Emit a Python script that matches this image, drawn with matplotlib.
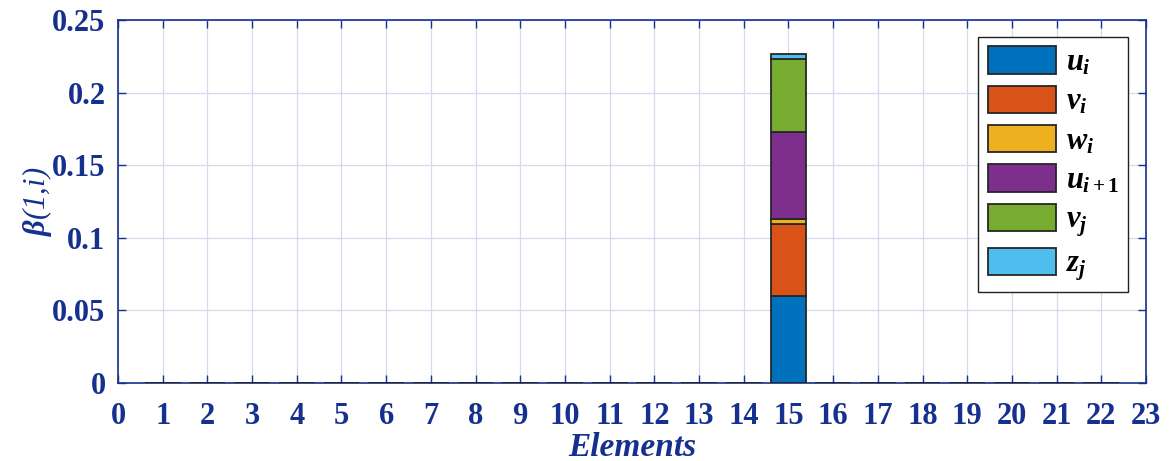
import numpy as np
import matplotlib
matplotlib.use("Agg")
import matplotlib.pyplot as plt

plt.rcParams['font.family'] = ['Liberation Serif', 'DejaVu Serif']
plt.rcParams['mathtext.fontset'] = 'custom'
plt.rcParams['mathtext.it'] = 'Liberation Serif:italic:bold'
plt.rcParams['mathtext.rm'] = 'Liberation Serif:bold'
plt.rcParams['mathtext.bf'] = 'Liberation Serif:bold'

elements = np.arange(1, 23)
labels = [r'$u_i$', r'$v_i$', r'$w_i$', r'$u_{i+1}$', r'$v_j$', r'$z_j$']
colors = ['#0072BD', '#D95319', '#EDB120', '#7E2F8E', '#77AC30', '#4DBEEE']

# contribution of each degree of freedom, only element 15 is non-zero
u_i = np.zeros(22); u_i[14] = 0.060
v_i = np.zeros(22); v_i[14] = 0.0495
w_i = np.zeros(22); w_i[14] = 0.0035
u_i1 = np.zeros(22); u_i1[14] = 0.0602
v_j = np.zeros(22); v_j[14] = 0.0498
z_j = np.zeros(22); z_j[14] = 0.0038
series = [u_i, v_i, w_i, u_i1, v_j, z_j]

navy = '#15308f'
grid_c = '#d5d9ee'

fig = plt.figure(figsize=(11.7, 4.61), dpi=100)
ax = fig.add_axes([118/1170, 1-383/461, (1146-118)/1170, (383-20)/461])

bottom = np.zeros(22)
for vals, lab, col in zip(series, labels, colors):
    ax.bar(elements, vals, width=0.8, bottom=bottom, color=col,
           edgecolor='#262626', linewidth=1.3, label=lab, zorder=3)
    bottom += vals

ax.set_xlim(0, 23)
ax.set_ylim(0, 0.25)
ax.set_xticks(np.arange(0, 24))
ax.set_yticks([0, 0.05, 0.1, 0.15, 0.2, 0.25])
ax.set_yticklabels(['0', '0.05', '0.1', '0.15', '0.2', '0.25'])
ax.grid(True, color=grid_c, linewidth=0.9, zorder=0)
ax.set_axisbelow(True)

for s in ax.spines.values():
    s.set_color(navy)
    s.set_linewidth(1.2)
ax.tick_params(axis='both', direction='in', colors=navy, length=6,
               top=True, right=True, labelsize=22, width=1.0)
for t in ax.get_xticklabels() + ax.get_yticklabels():
    t.set_fontweight('bold')
    t.set_color(navy)
ax.tick_params(axis='x', pad=14)
ax.tick_params(axis='y', pad=9)

ax.set_xlabel('Elements', fontsize=24, fontweight='bold', fontstyle='italic',
              color=navy)
ax.xaxis.set_label_coords(0.5, -0.135)
ax.set_ylabel(r'$\beta$(1,i)', fontsize=22, fontstyle='italic', color=navy)
ax.yaxis.set_label_coords(-0.062, 0.5)

leg = ax.legend(loc='upper right', bbox_to_anchor=(0.9825, 0.953), fontsize=22,
                handlelength=2.25, handleheight=1.0, labelspacing=0.27,
                handletextpad=0.3, borderpad=0.3, borderaxespad=0,
                fancybox=False, framealpha=1, edgecolor='#222222')
leg.get_frame().set_linewidth(1.0)

fig.savefig('out.png', dpi=100)
